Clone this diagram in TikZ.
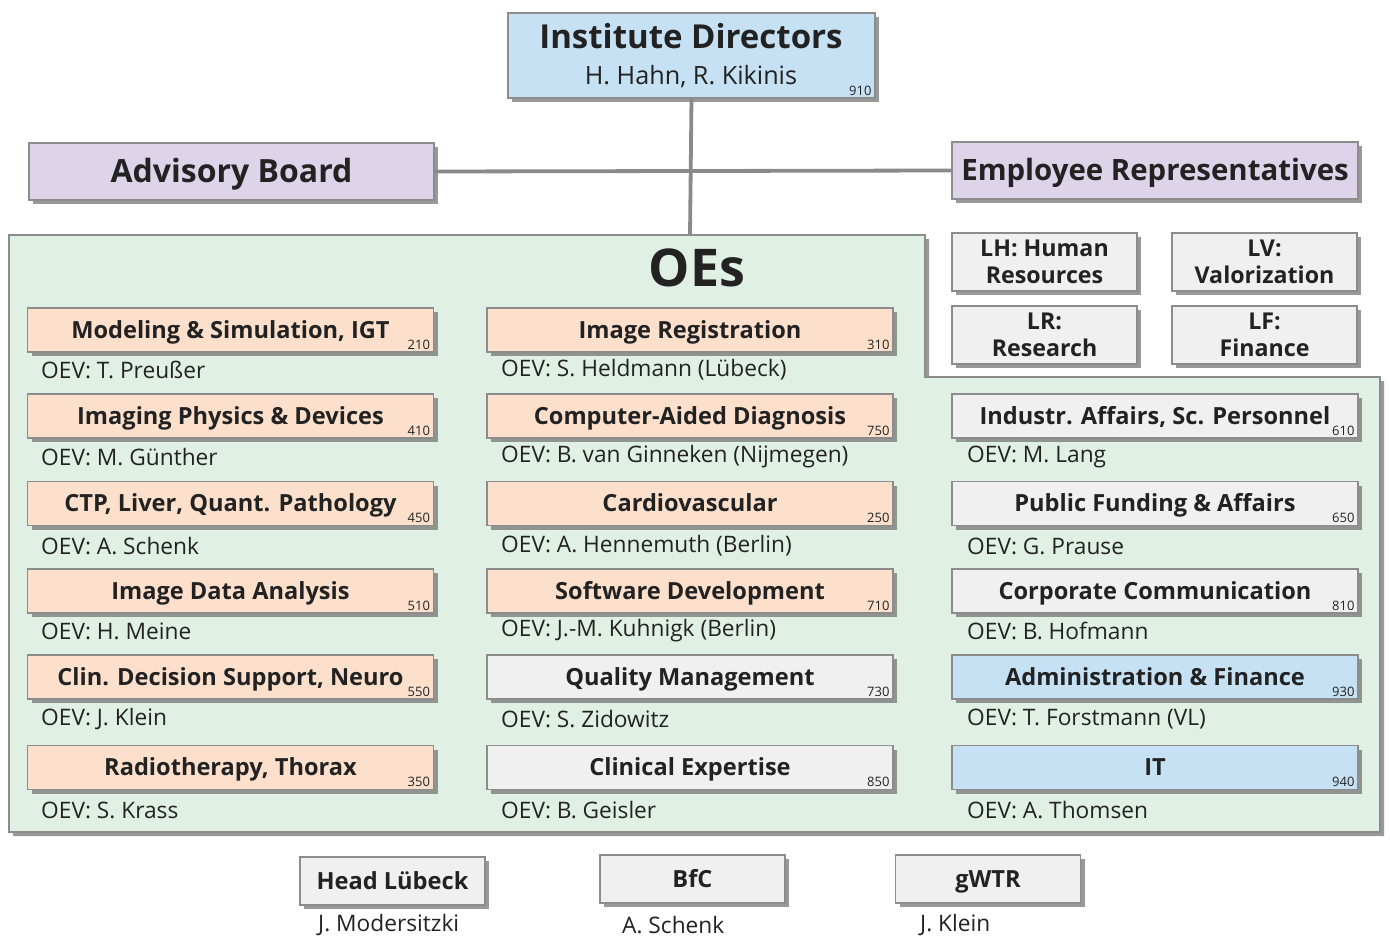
\documentclass[tikz,border=0pt]{standalone}
\usepackage{fontspec}
\setmainfont{Open Sans}
\usetikzlibrary{shadows}
\definecolor{bordergray}{HTML}{8C8C8C}
\definecolor{shadowgray}{HTML}{6E6E6E}
\definecolor{peach}{HTML}{FDE0CC}
\definecolor{skyblue}{HTML}{C6E1F4}
\definecolor{lilac}{HTML}{DDD4EA}
\definecolor{boxgray}{HTML}{F0F0F0}
\definecolor{oegreen}{HTML}{E1F0E5}
\definecolor{txt}{HTML}{222222}
\definecolor{linegray}{HTML}{8A8A8A}
\tikzset{
  x=1pt, y=-1pt,
  every node/.style={text=txt},
  orgbox/.style={draw=bordergray, line width=1.3pt, inner sep=0pt,
    drop shadow={shadow xshift=4pt, shadow yshift=-4pt, fill=shadowgray, opacity=0.7},
    font=\fontsize{23.6}{26}\selectfont\bfseries, align=center},
  unitbox/.style={orgbox, minimum width=406pt, minimum height=44pt, text height=16.8pt, text depth=0pt},
  lbox/.style={orgbox, fill=boxgray, minimum width=185pt, minimum height=58pt, font=\fontsize{23.2}{27}\selectfont\bfseries},
  botbox/.style={orgbox, fill=boxgray, minimum width=185pt, minimum height=48pt, text height=16.8pt, text depth=0pt},
  oev/.style={anchor=west, inner sep=0pt, font=\fontsize{22.7}{24}\selectfont},
  num/.style={anchor=south east, inner sep=0pt, font=\fontsize{13}{14}\selectfont},
  conn/.style={draw=linegray, line width=3.8pt}
}
\begin{document}
\begin{tikzpicture}
\useasboundingbox (0,0) rectangle (1390,939);
\fill[white] (0,0) rectangle (1390,939);
% green OE region
\coordinate (oestop) at (690,235);
\path[fill=oegreen, draw=bordergray, line width=1.3pt,
  drop shadow={shadow xshift=4pt, shadow yshift=-4pt, fill=shadowgray, opacity=0.7}]
  (9,235) -- (925,235) -- (925,377) -- (1380,377) -- (1380,832) -- (9,832) -- cycle;
\node[font=\fontsize{52}{54}\selectfont\bfseries, inner sep=0pt] (oes) at (697,268) {OEs};

% top
\node[orgbox, fill=skyblue, minimum width=367pt, minimum height=85pt] (dir) at (691.5,55.5) {};
\node[font=\fontsize{33}{35}\selectfont\bfseries, inner sep=0pt] (dirt) at (691,36) {Institute Directors};
\node[font=\fontsize{25.2}{27}\selectfont, inner sep=0pt] (dirn) at (691,77) {H. Hahn, R. Kikinis};
\node[num] at ([xshift=-4pt,yshift=3pt]dir.south east) {910};

\node[orgbox, fill=lilac, minimum width=405pt, minimum height=57pt, font=\fontsize{32}{34}\selectfont\bfseries, text height=22.8pt, text depth=0pt] (adv) at (231.5,171.5) {Advisory Board};
\node[orgbox, fill=lilac, minimum width=406pt, minimum height=57pt, font=\fontsize{29.4}{31}\selectfont\bfseries, text height=21pt, text depth=0pt] (emp) at (1155,170.5) {Employee Representatives};

% L boxes
\node[lbox] (lh) at (1044.5,262) {LH: Human\\Resources};
\node[lbox] (lv) at (1264.5,262) {LV:\\Valorization};
\node[lbox] (lr) at (1044.5,335) {LR:\\Research};
\node[lbox] (lf) at (1264.5,335) {LF:\\Finance};

% left column
\node[unitbox, fill=peach] (u210) at (230.5,330) {Modeling \& Simulation, IGT};
\node[num] at ([xshift=-4pt,yshift=3pt]u210.south east) {210};
\node[oev] at (41,370) {OEV: T. Preußer};
\node[unitbox, fill=peach] (u410) at (230.5,416) {Imaging Physics \& Devices};
\node[num] at ([xshift=-4pt,yshift=3pt]u410.south east) {410};
\node[oev] at (41,457) {OEV: M. Günther};
\node[unitbox, fill=peach] (u450) at (230.5,503.5) {CTP, Liver, Quant. Pathology};
\node[num] at ([xshift=-4pt,yshift=3pt]u450.south east) {450};
\node[oev] at (41,546) {OEV: A. Schenk};
\node[unitbox, fill=peach] (u510) at (230.5,591) {Image Data Analysis};
\node[num] at ([xshift=-4pt,yshift=3pt]u510.south east) {510};
\node[oev] at (41,631) {OEV: H. Meine};
\node[unitbox, fill=peach] (u550) at (230.5,677) {Clin. Decision Support, Neuro};
\node[num] at ([xshift=-4pt,yshift=3pt]u550.south east) {550};
\node[oev] at (41,719) {OEV: J. Klein};
\node[unitbox, fill=peach] (u350) at (230.5,767.5) {Radiotherapy, Thorax};
\node[num] at ([xshift=-4pt,yshift=3pt]u350.south east) {350};
\node[oev] at (41,810) {OEV: S. Krass};

% middle column
\node[unitbox, fill=peach] (u310) at (690,330) {Image Registration};
\node[num] at ([xshift=-4pt,yshift=3pt]u310.south east) {310};
\node[oev] at (501,370) {OEV: S. Heldmann (Lübeck)};
\node[unitbox, fill=peach] (u750) at (690,416) {Computer-Aided Diagnosis};
\node[num] at ([xshift=-4pt,yshift=3pt]u750.south east) {750};
\node[oev] at (501,457) {OEV: B. van Ginneken (Nijmegen)};
\node[unitbox, fill=peach] (u250) at (690,503.5) {Cardiovascular};
\node[num] at ([xshift=-4pt,yshift=3pt]u250.south east) {250};
\node[oev] at (501,546) {OEV: A. Hennemuth (Berlin)};
\node[unitbox, fill=peach] (u710) at (690,591) {Software Development};
\node[num] at ([xshift=-4pt,yshift=3pt]u710.south east) {710};
\node[oev] at (501,631) {OEV: J.-M. Kuhnigk (Berlin)};
\node[unitbox, fill=boxgray] (u730) at (690,677) {Quality Management};
\node[num] at ([xshift=-4pt,yshift=3pt]u730.south east) {730};
\node[oev] at (501,719) {OEV: S. Zidowitz};
\node[unitbox, fill=boxgray] (u850) at (690,767.5) {Clinical Expertise};
\node[num] at ([xshift=-4pt,yshift=3pt]u850.south east) {850};
\node[oev] at (501,810) {OEV: B. Geisler};

% right column
\node[unitbox, fill=boxgray] (u610) at (1155,416) {Industr. Affairs, Sc. Personnel};
\node[num] at ([xshift=-4pt,yshift=3pt]u610.south east) {610};
\node[oev] at (967,457) {OEV: M. Lang};
\node[unitbox, fill=boxgray] (u650) at (1155,503.5) {Public Funding \& Affairs};
\node[num] at ([xshift=-4pt,yshift=3pt]u650.south east) {650};
\node[oev] at (967,546) {OEV: G. Prause};
\node[unitbox, fill=boxgray] (u810) at (1155,591) {Corporate Communication};
\node[num] at ([xshift=-4pt,yshift=3pt]u810.south east) {810};
\node[oev] at (967,631) {OEV: B. Hofmann};
\node[unitbox, fill=skyblue] (u930) at (1155,677) {Administration \& Finance};
\node[num] at ([xshift=-4pt,yshift=3pt]u930.south east) {930};
\node[oev] at (967,719) {OEV: T. Forstmann (VL)};
\node[unitbox, fill=skyblue] (u940) at (1155,767.5) {IT};
\node[num] at ([xshift=-4pt,yshift=3pt]u940.south east) {940};
\node[oev] at (967,810) {OEV: A. Thomsen};

% bottom
\node[botbox] (hl) at (392.5,881) {Head Lübeck};
\node[oev] at (318,925) {J. Modersitzki};
\node[botbox] (bfc) at (692.5,879) {BfC};
\node[oev] at (622,925) {A. Schenk};
\node[botbox] (gwtr) at (988,879) {gWTR};
\node[oev] at (920,925) {J. Klein};

% connectors
\draw[conn] (dir.south) -- (oestop);
\draw[conn] (adv.east) -- (emp.west);
\end{tikzpicture}
\end{document}
